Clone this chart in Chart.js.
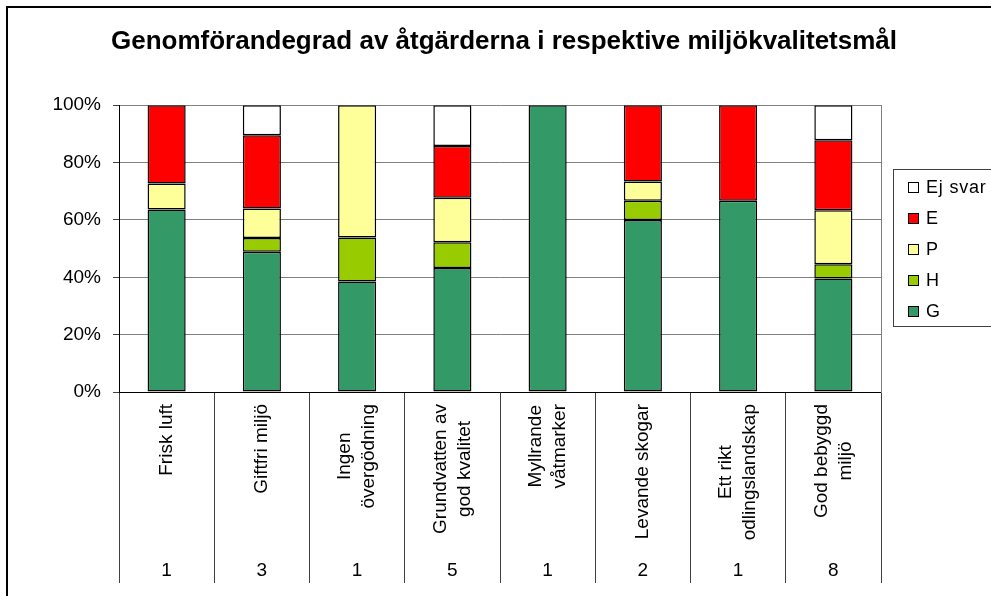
<!DOCTYPE html>
<html>
<head>
<meta charset="utf-8">
<script src="https://cdn.jsdelivr.net/npm/chart.js@4.4.1/dist/chart.umd.min.js"></script>
<style>
  html, body { margin: 0; padding: 0; background: #fff; overflow: hidden; }
  #wrap { width: 991px; height: 596px; position: relative; }
</style>
</head>
<body>
<div id="wrap"><canvas id="myChart"></canvas></div>
<script>
// kategorier (miljökvalitetsmål) och antal åtgärder per mål
const kategorier = [
  ['Frisk luft'],
  ['Giftfri miljö'],
  ['Ingen', 'övergödning'],
  ['Grundvatten av', 'god kvalitet'],
  ['Myllrande', 'våtmarker'],
  ['Levande skogar'],
  ['Ett rikt', 'odlingslandskap'],
  ['God bebyggd', 'miljö']
]
const antal = [1, 3, 1, 5, 1, 2, 1, 8]

// andel i procent
const G = [63.6, 48.9, 38.5, 43.2, 100, 60.0, 66.7, 39.6]
const H = [0, 4.8, 15.4, 9.0, 0, 6.7, 0, 4.9]
const P = [9.1, 10.3, 46.1, 15.5, 0, 6.7, 0, 18.9]
const E = [27.3, 25.5, 0, 18.1, 0, 26.6, 33.3, 24.4]
const EjSvar = [0, 10.5, 0, 14.2, 0, 0, 0, 12.2]

const yTicks = [0, 20, 40, 60, 80, 100]

Chart.defaults.font.family = '"Liberation Sans", Arial, sans-serif'
Chart.defaults.color = '#000'

const ramOchText = {
  id: 'ramOchText',
  beforeDraw(chart) {
    const c = chart.ctx
    c.save()
    c.fillStyle = '#fff'
    c.fillRect(0, 0, chart.width, chart.height)
    c.strokeStyle = '#000'
    c.lineWidth = 2
    c.strokeRect(7, 7, 2000, 2000)
    c.restore()
  },
  afterDraw(chart) {
    const c = chart.ctx
    const x = chart.scales.x
    const bottom = chart.chartArea.bottom
    c.save()
    c.fillStyle = '#000'
    // kategorietiketter, roterade
    c.font = '19px "Liberation Sans", Arial, sans-serif'
    const lh = 24
    kategorier.forEach((rader, i) => {
      const cx = x.getPixelForValue(i)
      const maxW = Math.max(...rader.map(r => c.measureText(r).width))
      c.save()
      c.translate(cx, bottom + 12)
      c.rotate(-Math.PI / 2)
      c.textAlign = 'center'
      c.textBaseline = 'middle'
      rader.forEach((r, k) => {
        c.fillText(r, -maxW / 2, (k - (rader.length - 1) / 2) * lh)
      })
      c.restore()
      c.textAlign = 'center'
      c.textBaseline = 'middle'
      c.fillText(String(antal[i]), cx, 571)
    })
    // förklaring
    const lx = 893, ly = 169
    c.strokeStyle = '#404040'
    c.lineWidth = 1
    c.strokeRect(lx + 0.5, ly + 0.5, 200, 157)
    c.font = '18px "Liberation Sans", Arial, sans-serif'
    c.letterSpacing = '0.8px'
    c.textAlign = 'left'
    c.textBaseline = 'middle'
    const ds = chart.data.datasets.slice().reverse()
    ds.forEach((d, k) => {
      const y = 187 + k * 31
      c.fillStyle = d.backgroundColor
      c.fillRect(908, y - 5, 10, 10)
      c.strokeStyle = '#000'
      c.strokeRect(908.5, y - 4.5, 10, 10)
      c.fillStyle = '#000'
      c.fillText(d.label, 926, y + 1)
    })
    c.restore()
  }
}

const ctx = document.getElementById('myChart').getContext('2d')
new Chart(ctx, {
  type: 'bar',
  data: {
    labels: kategorier.map(k => k.join(' ')),
    datasets: [
      { label: 'G', data: G, backgroundColor: '#339966' },
      { label: 'H', data: H, backgroundColor: '#99CC00' },
      { label: 'P', data: P, backgroundColor: '#FFFF99' },
      { label: 'E', data: E, backgroundColor: '#FF0000' },
      { label: 'Ej svar', data: EjSvar, backgroundColor: '#FFFFFF' }
    ].map(d => Object.assign(d, {
      borderColor: '#000',
      borderWidth: 1.5,
      borderSkipped: false,
      inflateAmount: 0,
      barPercentage: 0.4,
      categoryPercentage: 1
    }))
  },
  options: {
    responsive: true,
    maintainAspectRatio: false,
    animation: false,
    layout: { padding: { left: 17, right: 0, top: 0, bottom: 13 } },
    plugins: {
      legend: { display: false },
      tooltip: { enabled: false },
      title: {
        display: true,
        text: 'Genomförandegrad av åtgärderna i respektive miljökvalitetsmål',
        font: { size: 26, weight: 'bold', lineHeight: 1.2 },
        color: '#000',
        padding: { top: 26, bottom: 48 }
      }
    },
    scales: {
      x: {
        stacked: true,
        ticks: { display: false },
        grid: {
          drawOnChartArea: false,
          tickLength: 191,
          color: '#404040'
        },
        border: { color: '#000', width: 1 }
      },
      y: {
        stacked: true,
        min: 0,
        max: 100,
        afterBuildTicks: s => { s.ticks = yTicks.map(v => ({ value: v })) },
        afterFit: s => { s.width = 102 },
        ticks: {
          font: { size: 19 },
          padding: 12,
          callback: v => v + '%'
        },
        grid: { color: '#808080', tickColor: '#404040', tickLength: 6 },
        border: { color: '#000', width: 1 }
      },
      y2: {
        type: 'linear',
        position: 'right',
        ticks: { display: false },
        grid: { display: false },
        border: { display: true, color: '#808080' },
        afterFit: s => { s.width = 110 }
      }
    }
  },
  plugins: [ramOchText]
})
</script>
</body>
</html>
